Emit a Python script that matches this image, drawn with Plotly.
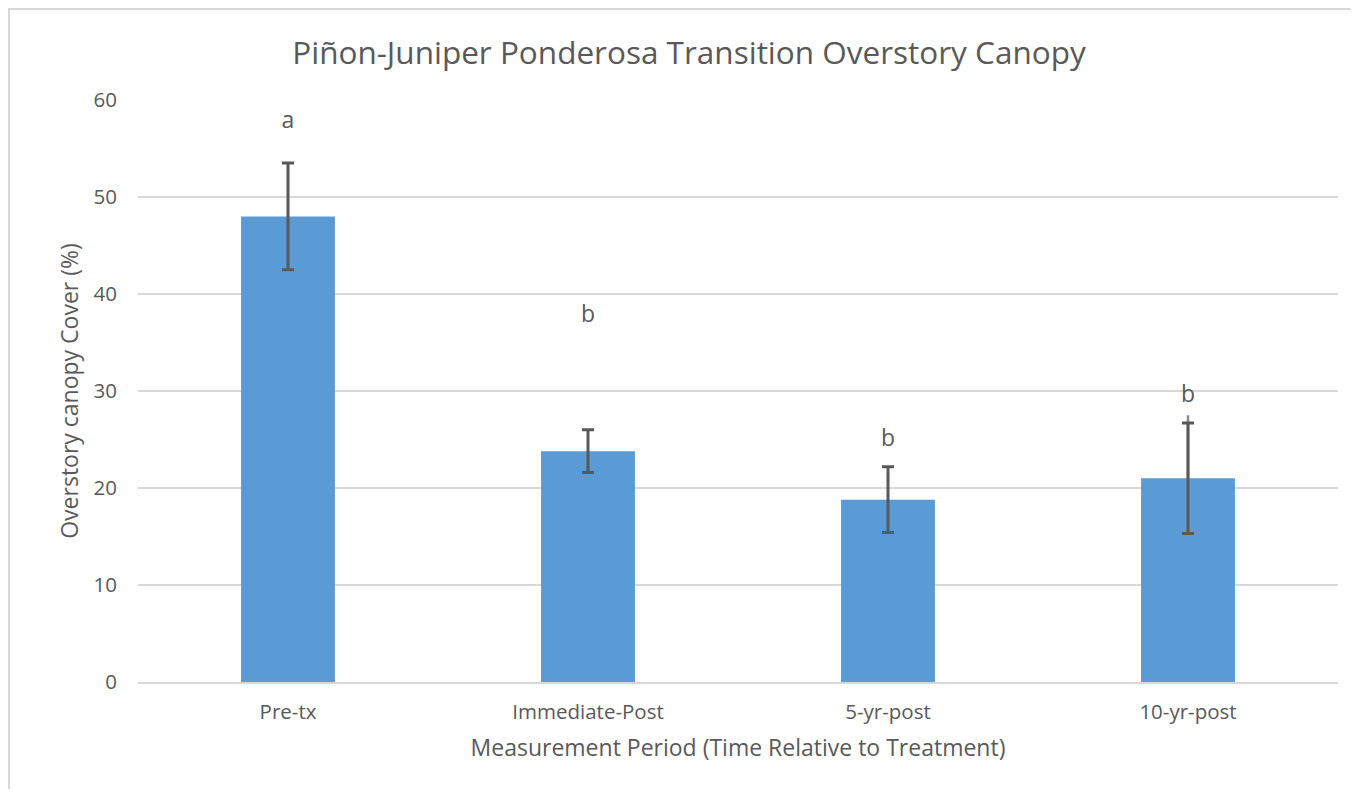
import plotly.graph_objects as go

categories = ["Pre-tx", "Immediate-Post", "5-yr-post", "10-yr-post"]
cover_mean = [48.0, 23.8, 18.8, 21.0]
cover_err = [5.5, 2.2, 3.4, 5.7]
letters = ["a", "b", "b", "b"]
letter_y = [57.7, 37.7, 24.9, 29.5]
# faint extra whisker seen above the 10-yr-post error bar
faint_err = [None, None, None, 6.5]

GREY = "#595959"
FONT = "Open Sans, Segoe UI, DejaVu Sans, sans-serif"

W, H = 1343, 781          # page body has an 8px margin
L, R, T, B = 130, 13, 92, 107
PW = W - L - R            # 1200
PH = H - T - B            # 582

fig = go.Figure()
fig.add_trace(go.Bar(
    x=categories, y=cover_mean, width=0.313,
    marker=dict(color="#5B9BD5", line=dict(width=0)),
    showlegend=False, hoverinfo="x+y",
))
fig.add_trace(go.Scatter(
    x=[c for c, e in zip(categories, faint_err) if e is not None],
    y=[m for m, e in zip(cover_mean, faint_err) if e is not None],
    mode="markers", marker=dict(size=1, color="rgba(0,0,0,0)"),
    error_y=dict(type="data", array=[e for e in faint_err if e is not None],
                 arrayminus=[0], color="#8C8C8C", thickness=2.5, width=0),
    showlegend=False, hoverinfo="skip",
))
fig.add_trace(go.Scatter(
    x=categories, y=cover_mean, mode="markers",
    marker=dict(size=1, color="rgba(0,0,0,0)"),
    error_y=dict(type="data", array=cover_err, color=GREY, thickness=3, width=6),
    showlegend=False, hoverinfo="skip",
))
fig.add_trace(go.Scatter(
    x=categories, y=letter_y, mode="text", text=letters,
    textfont=dict(family=FONT, size=23, color=GREY),
    textposition="middle center", showlegend=False, hoverinfo="skip",
))

fig.update_layout(
    width=W, height=H,
    margin=dict(l=L, r=R, t=T, b=B),
    paper_bgcolor="white", plot_bgcolor="white",
    font=dict(family=FONT, color=GREY),
    title=dict(text="Piñon-Juniper Ponderosa Transition Overstory Canopy",
               x=681 / W, xref="container", xanchor="center",
               y=1 - 45 / H, yref="container", yanchor="middle",
               font=dict(family=FONT, size=31.5, color=GREY)),
    xaxis=dict(
        showgrid=False, showline=True, linecolor="#D9D9D9", linewidth=1.5,
        ticks="", tickfont=dict(family=FONT, size=20.5, color=GREY),
        ticklabelstandoff=11,
        title=dict(text="Measurement Period (Time Relative to Treatment)",
                   font=dict(family=FONT, size=23, color=GREY), standoff=16),
    ),
    yaxis=dict(
        range=[0, 60], dtick=10, showgrid=True, gridcolor="#D9D9D9", gridwidth=1.5,
        zeroline=False, showline=False, ticks="",
        tickfont=dict(family=FONT, size=20.5, color=GREY), ticklabelstandoff=20,
        title=dict(text="Overstory canopy Cover (%)",
                   font=dict(family=FONT, size=23, color=GREY), standoff=8),
    ),
    shapes=[
        dict(type="line", xref="paper", yref="paper",
             x0=-L / PW, x1=1.2, y0=(PH + T - 1) / PH, y1=(PH + T - 1) / PH,
             line=dict(color="#D9D9D9", width=2)),
        dict(type="line", xref="paper", yref="paper",
             x0=-(L - 1) / PW, x1=-(L - 1) / PW, y0=(PH + T) / PH, y1=-0.3,
             line=dict(color="#D9D9D9", width=2)),
    ],
)

fig.write_html("out.html")
